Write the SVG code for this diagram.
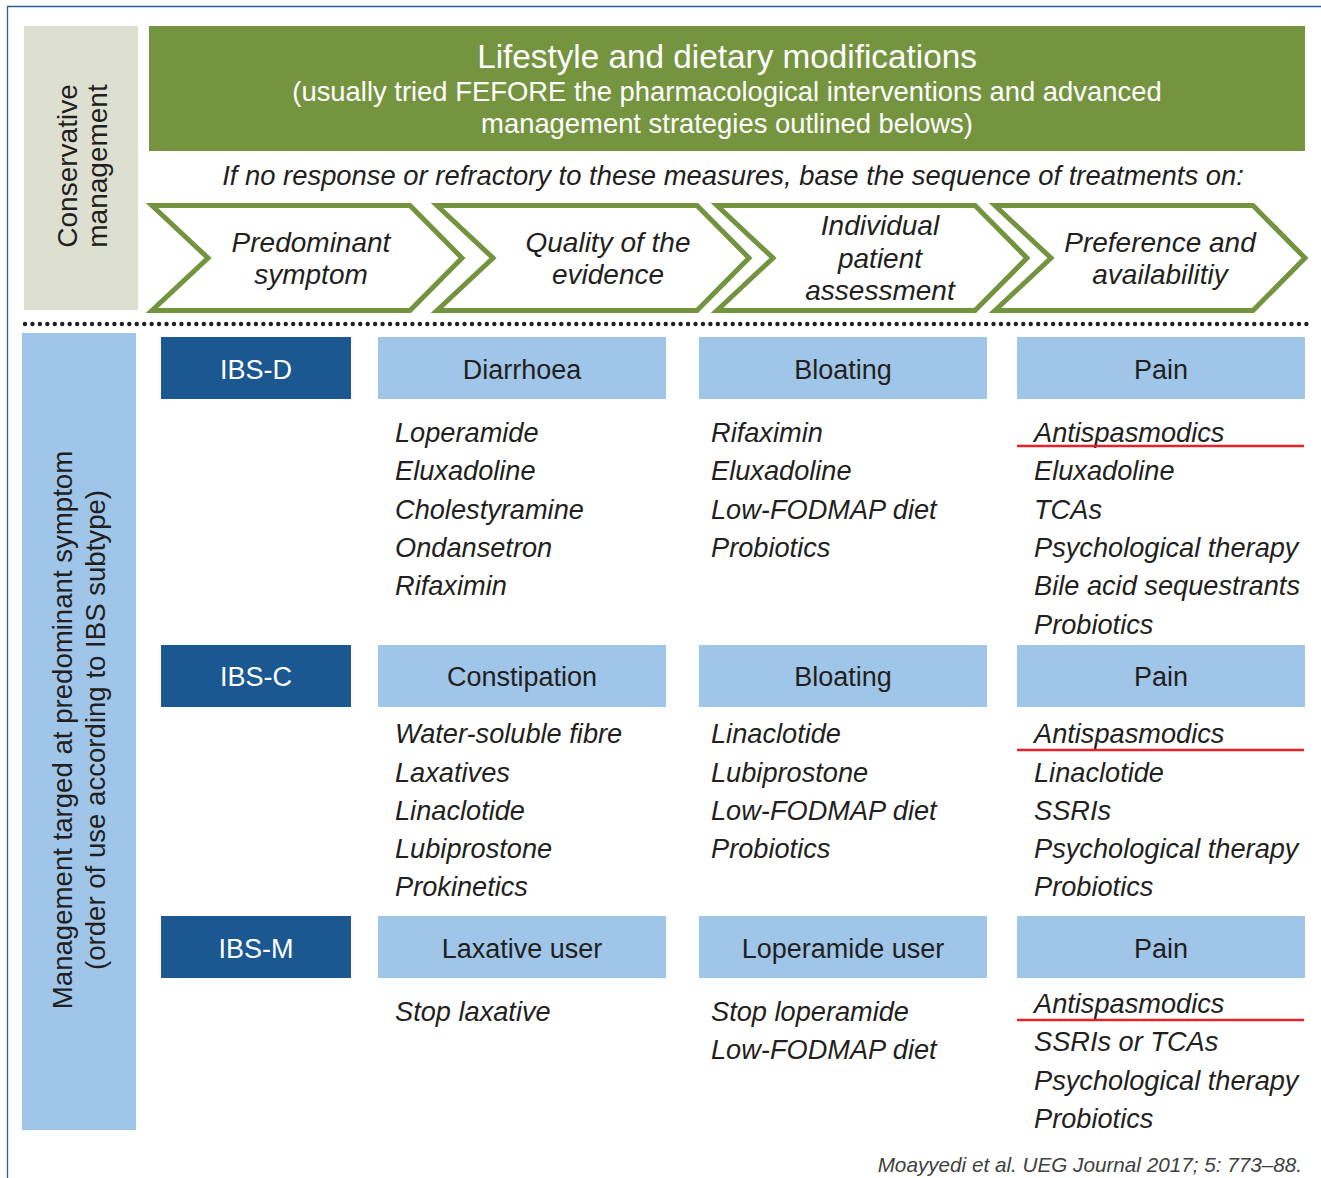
<svg xmlns="http://www.w3.org/2000/svg" width="1321" height="1178" viewBox="0 0 1321 1178">
<style>
text{font-family:"Liberation Sans",Arial,sans-serif;fill:#231f20}
.it{font-style:italic;font-size:27.2px}
.ch{font-style:italic;font-size:28px;text-anchor:middle}
.hd{font-size:27px;text-anchor:middle}
.wh{fill:#fff}
.chev{fill:#fff;stroke:#73933f;stroke-width:5;stroke-linejoin:miter}
.dk{fill:#1b5891}
.lb{fill:#9fc5e8}
.red{stroke:#e3222b;stroke-width:2.5}
.mid{text-anchor:middle}
</style>
<rect width="1321" height="1178" fill="#fff"/>
<g id="frame" fill="none" stroke="#2a5f98" stroke-width="1.3">
<line x1="7" y1="6.5" x2="1321" y2="6.5"/>
<line x1="7.5" y1="6" x2="7.5" y2="1178"/>
</g>
<g id="conservative">
<rect x="24" y="26" width="114" height="284" fill="#dde0d1"/>
<text transform="translate(77,166) rotate(-90)" class="mid" font-size="28">Conservative</text>
<text transform="translate(107,166) rotate(-90)" class="mid" font-size="28">management</text>
</g>
<g id="lifestyle">
<rect x="149" y="26" width="1156" height="125" fill="#75943f"/>
<text x="727" y="68" class="mid wh" font-size="33.3">Lifestyle and dietary modifications</text>
<text x="727" y="101" class="mid wh" font-size="27.4">(usually tried FEFORE the pharmacological interventions and advanced</text>
<text x="727" y="133" class="mid wh" font-size="27.4">management strategies outlined belows)</text>
</g>
<text x="733" y="185" class="mid" font-style="italic" font-size="27.4">If no response or refractory to these measures, base the sequence of treatments on:</text>
<g id="chev1">
<polygon class="chev" points="152,205.5 410,205.5 462,258 410,310.5 152,310.5 208,258"/>
<text x="311" y="252" class="ch">Predominant</text>
<text x="311" y="284" class="ch">symptom</text>
</g>
<g id="chev2">
<polygon class="chev" points="437,205.5 697,205.5 749,258 697,310.5 437,310.5 493,258"/>
<text x="608" y="252" class="ch">Quality of the</text>
<text x="608" y="284" class="ch">evidence</text>
</g>
<g id="chev3">
<polygon class="chev" points="717,205.5 975,205.5 1027,258 975,310.5 717,310.5 773,258"/>
<text x="880" y="235" class="ch">Individual</text>
<text x="880" y="268" class="ch">patient</text>
<text x="880" y="300" class="ch">assessment</text>
</g>
<g id="chev4">
<polygon class="chev" points="995,205.5 1253,205.5 1305,258 1253,310.5 995,310.5 1051,258"/>
<text x="1160" y="252" class="ch">Preference and</text>
<text x="1160" y="284" class="ch">availabilitiy</text>
</g>
<line x1="25" y1="324" x2="1310" y2="324" stroke="#231f20" stroke-width="4.4" stroke-linecap="round" stroke-dasharray="0 7.45"/>
<g id="management">
<rect x="22" y="333" width="114" height="797" class="lb"/>
<text transform="translate(72,730) rotate(-90)" class="mid" font-size="27.6">Management targed at predominant symptom</text>
<text transform="translate(105,730) rotate(-90)" class="mid" font-size="27.6">(order of use according to IBS subtype)</text>
</g>
<g id="ibs-d">
<rect x="161" y="337" width="190" height="62" class="dk"/>
<text x="256" y="379" class="hd wh">IBS-D</text>
</g>
<g id="diarrhoea">
<rect x="378" y="337" width="288" height="62" class="lb"/>
<text x="522" y="379" class="hd">Diarrhoea</text>
<text class="it"><tspan x="395" y="442">Loperamide</tspan><tspan x="395" y="480">Eluxadoline</tspan><tspan x="395" y="519">Cholestyramine</tspan><tspan x="395" y="557">Ondansetron</tspan><tspan x="395" y="595">Rifaximin</tspan></text>
</g>
<g id="bloating-d">
<rect x="699" y="337" width="288" height="62" class="lb"/>
<text x="843" y="379" class="hd">Bloating</text>
<text class="it"><tspan x="711" y="442">Rifaximin</tspan><tspan x="711" y="480">Eluxadoline</tspan><tspan x="711" y="519">Low-FODMAP diet</tspan><tspan x="711" y="557">Probiotics</tspan></text>
</g>
<g id="pain-d">
<rect x="1017" y="337" width="288" height="62" class="lb"/>
<text x="1161" y="379" class="hd">Pain</text>
<text class="it"><tspan x="1034" y="442">Antispasmodics</tspan><tspan x="1034" y="480">Eluxadoline</tspan><tspan x="1034" y="519">TCAs</tspan><tspan x="1034" y="557">Psychological therapy</tspan><tspan x="1034" y="595">Bile acid sequestrants</tspan><tspan x="1034" y="634">Probiotics</tspan></text>
<line x1="1017" y1="446" x2="1304" y2="446" class="red"/>
</g>
<g id="ibs-c">
<rect x="161" y="645" width="190" height="62" class="dk"/>
<text x="256" y="686" class="hd wh">IBS-C</text>
</g>
<g id="constipation">
<rect x="378" y="645" width="288" height="62" class="lb"/>
<text x="522" y="686" class="hd">Constipation</text>
<text class="it"><tspan x="395" y="743">Water-soluble fibre</tspan><tspan x="395" y="782">Laxatives</tspan><tspan x="395" y="820">Linaclotide</tspan><tspan x="395" y="858">Lubiprostone</tspan><tspan x="395" y="896">Prokinetics</tspan></text>
</g>
<g id="bloating-c">
<rect x="699" y="645" width="288" height="62" class="lb"/>
<text x="843" y="686" class="hd">Bloating</text>
<text class="it"><tspan x="711" y="743">Linaclotide</tspan><tspan x="711" y="782">Lubiprostone</tspan><tspan x="711" y="820">Low-FODMAP diet</tspan><tspan x="711" y="858">Probiotics</tspan></text>
</g>
<g id="pain-c">
<rect x="1017" y="645" width="288" height="62" class="lb"/>
<text x="1161" y="686" class="hd">Pain</text>
<text class="it"><tspan x="1034" y="743">Antispasmodics</tspan><tspan x="1034" y="782">Linaclotide</tspan><tspan x="1034" y="820">SSRIs</tspan><tspan x="1034" y="858">Psychological therapy</tspan><tspan x="1034" y="896">Probiotics</tspan></text>
<line x1="1017" y1="750" x2="1304" y2="750" class="red"/>
</g>
<g id="ibs-m">
<rect x="161" y="916" width="190" height="62" class="dk"/>
<text x="256" y="958" class="hd wh">IBS-M</text>
</g>
<g id="laxative-user">
<rect x="378" y="916" width="288" height="62" class="lb"/>
<text x="522" y="958" class="hd">Laxative user</text>
<text class="it"><tspan x="395" y="1021">Stop laxative</tspan></text>
</g>
<g id="loperamide-user">
<rect x="699" y="916" width="288" height="62" class="lb"/>
<text x="843" y="958" class="hd">Loperamide user</text>
<text class="it"><tspan x="711" y="1021">Stop loperamide</tspan><tspan x="711" y="1059">Low-FODMAP diet</tspan></text>
</g>
<g id="pain-m">
<rect x="1017" y="916" width="288" height="62" class="lb"/>
<text x="1161" y="958" class="hd">Pain</text>
<text class="it"><tspan x="1034" y="1013">Antispasmodics</tspan><tspan x="1034" y="1051">SSRIs or TCAs</tspan><tspan x="1034" y="1090">Psychological therapy</tspan><tspan x="1034" y="1128">Probiotics</tspan></text>
<line x1="1017" y1="1020" x2="1304" y2="1020" class="red"/>
</g>
<text x="1302" y="1172" text-anchor="end" font-style="italic" font-size="20.7" style="fill:#404040">Moayyedi et al. UEG Journal 2017; 5: 773–88.</text>
</svg>
